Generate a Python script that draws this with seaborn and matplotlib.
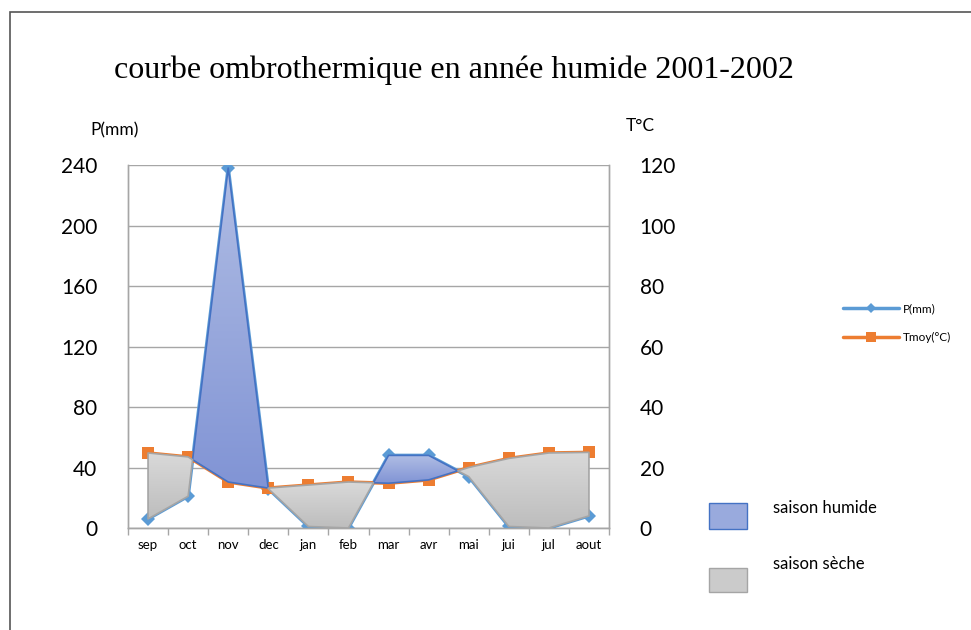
import numpy as np
import pandas as pd
import seaborn as sns
import matplotlib.pyplot as plt
from matplotlib.lines import Line2D
from matplotlib.patches import Rectangle
from matplotlib.colors import LinearSegmentedColormap

months = ["sep", "oct", "nov", "dec", "jan", "feb", "mar", "avr", "mai", "jui", "jul", "aout"]
precip = [6, 21, 238, 26, 1, 0, 48, 48, 34, 1, 0, 8]
tmoy = [24.8, 23.5, 15.2, 13.2, 14.2, 15.2, 14.8, 15.9, 20.0, 23.0, 24.8, 25.0]
p_ticks = [0, 40, 80, 120, 160, 200, 240]
t_ticks = [0, 20, 40, 60, 80, 100, 120]

df = pd.DataFrame({"mois": months, "idx": np.arange(len(months)), "P": precip, "T": tmoy})

sns.set_theme(style="white")
plt.rcParams["font.family"] = ["Lato", "DejaVu Sans"]
plt.rcParams["text.color"] = "black"
plt.rcParams["xtick.color"] = "black"
plt.rcParams["ytick.color"] = "black"

W, H = 971, 630
fig = plt.figure(figsize=(W / 100, H / 100), dpi=100)
ax = fig.add_axes([128 / W, 1 - 528 / H, (609 - 128) / W, (528 - 165) / H])
ax2 = ax.twinx()

blue = "#5b9bd5"
orange = "#ed7d31"
grid_c = "#a6a6a6"

sns.lineplot(data=df, x="idx", y="P", ax=ax, color=blue, lw=2.5, marker="D",
             markersize=7, markeredgewidth=0, zorder=3, legend=False)
sns.lineplot(data=df, x="idx", y="T", ax=ax2, color=orange, lw=2.5, marker="s",
             markersize=8, markeredgewidth=0, zorder=2, legend=False)

ax.set_xlim(-0.5, len(months) - 0.5)
ax.set_ylim(0, 240)
ax2.set_ylim(0, 120)

x = df["idx"].to_numpy()
p_half = df["P"].to_numpy() / 2.0
t = df["T"].to_numpy()

def gradient_fill(where, top_c, bot_c, edge_c):
    coll = ax2.fill_between(x, p_half, t, where=where, interpolate=True,
                            facecolor="none", edgecolor=edge_c, lw=1.2, zorder=5)
    cmap = LinearSegmentedColormap.from_list("g", [bot_c, top_c])
    grad = np.linspace(0, 1, 256).reshape(-1, 1)
    for path in coll.get_paths():
        v = path.vertices
        x0, x1 = v[:, 0].min(), v[:, 0].max()
        y0, y1 = v[:, 1].min(), v[:, 1].max()
        if x1 - x0 <= 0 or y1 - y0 <= 0:
            continue
        im = ax2.imshow(grad, cmap=cmap, origin="lower", aspect="auto",
                        extent=(x0, x1, y0, y1), zorder=4, interpolation="bilinear")
        im.set_clip_path(path, transform=ax2.transData)

gradient_fill(p_half >= t, "#b0bde4", "#8194d5", "#4472c4")
gradient_fill(p_half <= t, "#d9d9d9", "#bdbdbd", "#a5a5a5")

ax.set_xlim(-0.5, len(months) - 0.5)
ax2.set_xlim(-0.5, len(months) - 0.5)
ax.set_ylim(0, 240)
ax2.set_ylim(0, 120)
ax.set_yticks(p_ticks)
ax2.set_yticks(t_ticks)
ax.set_yticklabels([str(v) for v in p_ticks], fontsize=15)
ax2.set_yticklabels([str(v) for v in t_ticks], fontsize=15)
ax.set_xticks(x)
ax.set_xticklabels(months, fontsize=9.5)
ax.set_xticks(np.arange(-0.5, len(months), 1.0), minor=True)
ax.tick_params(axis="x", which="major", length=0, pad=8)
ax.tick_params(axis="x", which="minor", length=5, color=grid_c, width=1, direction="out", bottom=True)
ax.tick_params(axis="y", length=0, pad=22)
ax2.tick_params(axis="y", length=0, pad=22)
ax.set_xlabel("")
ax.set_ylabel("")
ax2.set_ylabel("")

ax.grid(axis="y", color=grid_c, lw=1)
ax.set_axisbelow(True)
for a in (ax, ax2):
    a.spines["top"].set_visible(False)
    for s in ("left", "right", "bottom"):
        a.spines[s].set_color(grid_c)
        a.spines[s].set_linewidth(1)

# outer frame
fig.add_artist(Rectangle((10 / W, -0.1), 1.2, 1 - 12 / H + 0.1, transform=fig.transFigure,
                         fill=False, edgecolor="#555555", lw=1.2))

fig.text(454 / W, 1 - 70 / H, "courbe ombrothermique en année humide 2001-2002",
         ha="center", va="center", fontsize=23, family="Liberation Serif")
fig.text(115 / W, 1 - 130 / H, "P(mm)", ha="center", va="center", fontsize=12.5)
fig.text(640 / W, 1 - 126 / H, "T°C", ha="center", va="center", fontsize=12.5)

handles = [Line2D([], [], color=blue, lw=2.5, marker="D", markersize=5, markeredgewidth=0),
           Line2D([], [], color=orange, lw=2.5, marker="s", markersize=7, markeredgewidth=0)]
fig.legend(handles, ["P(mm)", "Tmoy(°C)"], loc="center left",
           bbox_to_anchor=(832 / W, 1 - 323 / H), frameon=False, fontsize=8.5,
           handlelength=4.8, handletextpad=0.3, labelspacing=1.5)

fig.add_artist(Rectangle((709 / W, 1 - 529 / H), 38 / W, 26 / H, transform=fig.transFigure,
                         facecolor="#99aadd", edgecolor="#4472c4", lw=1))
fig.add_artist(Rectangle((709 / W, 1 - 592 / H), 38 / W, 24 / H, transform=fig.transFigure,
                         facecolor="#cbcbcb", edgecolor="#a5a5a5", lw=1))
fig.text(773 / W, 1 - 508 / H, "saison humide", ha="left", va="center", fontsize=12)
fig.text(773 / W, 1 - 564 / H, "saison sèche", ha="left", va="center", fontsize=12)

fig.savefig("out.png", dpi=100)
